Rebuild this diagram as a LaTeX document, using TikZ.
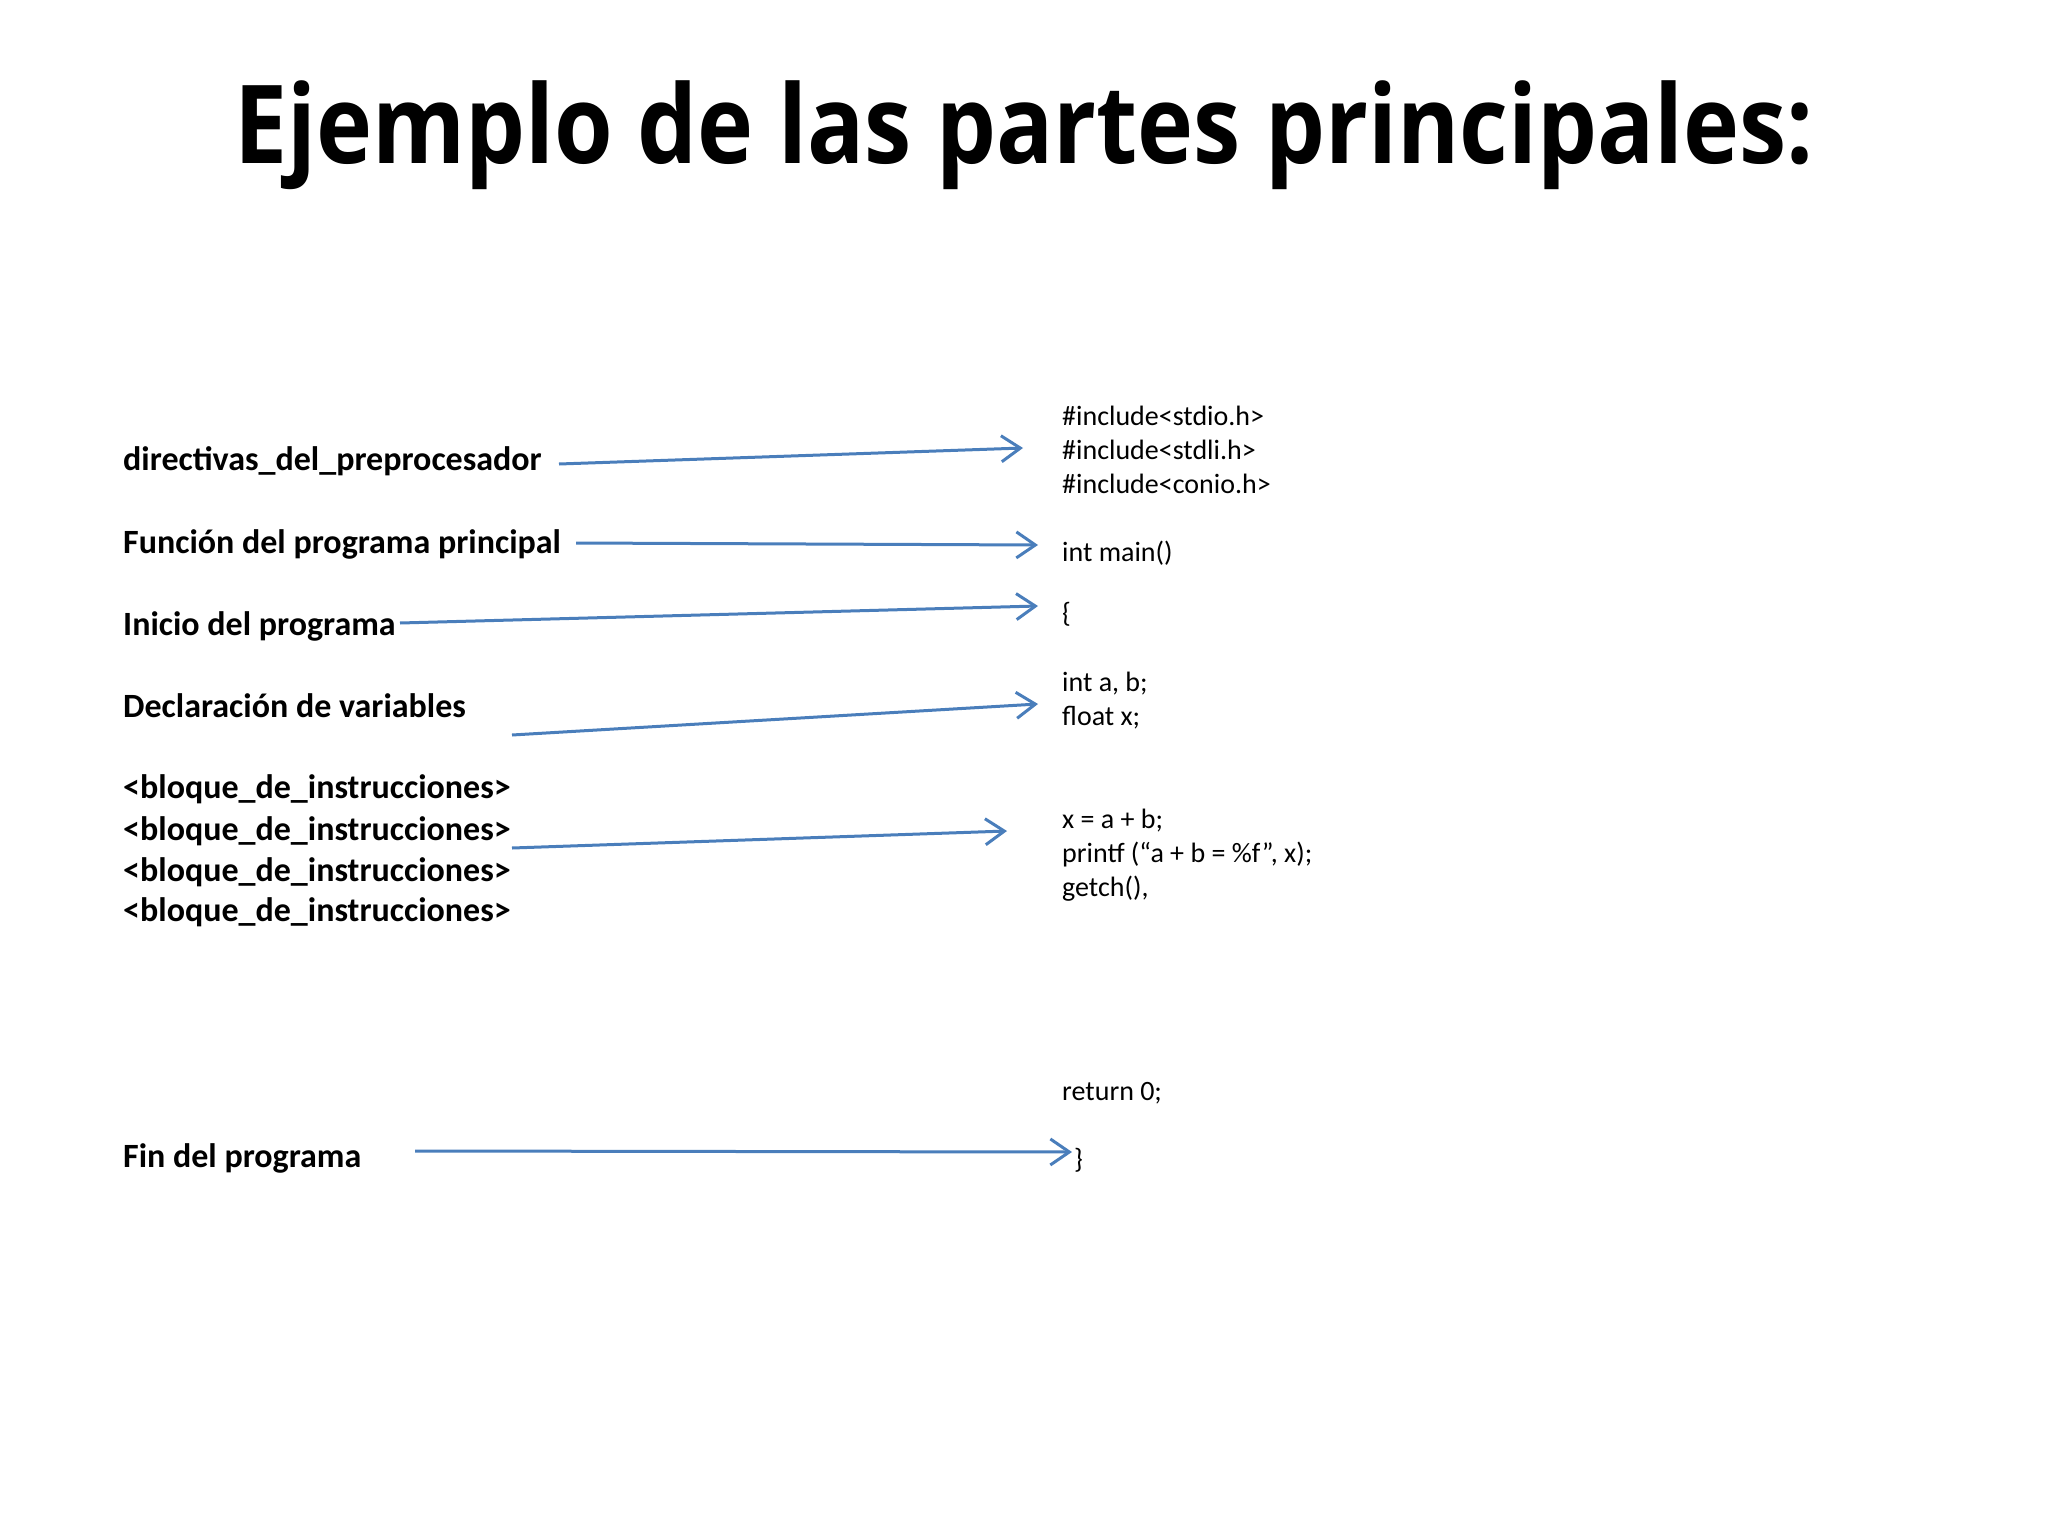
\documentclass[tikz,border=0pt]{standalone}
\usepackage{fontspec}
\setmainfont{Carlito}
\newfontfamily\titlefont{Open Sans}
\usetikzlibrary{arrows.meta}
\definecolor{arrowblue}{HTML}{4A7EBB}
\tikzset{
  lbl/.style={anchor=west, inner sep=0pt, font=\fontsize{34}{41}\selectfont\bfseries, text height=25pt, text depth=8pt},
  code/.style={anchor=west, inner sep=0pt, font=\fontsize{28}{34}\selectfont, text height=21pt, text depth=7pt},
  pointer/.style={draw=arrowblue, line width=3pt, -{Straight Barb[length=19pt,width=26pt,line width=3pt]}},
}
\begin{document}
\begin{tikzpicture}[x=1pt, y=-1pt]
\useasboundingbox (0,0) rectangle (2048,1536);
\node[anchor=base, inner sep=0pt] (title) at (1024,164)
  {\scalebox{0.87}[1]{\titlefont\fontsize{109}{120}\selectfont\bfseries Ejemplo de las partes principales:}};

% labels
\node[lbl] (dir) at (123,462) {directivas\_del\_preprocesador};
\node[lbl] (func) at (123,545) {Función del programa principal};
\node[lbl] (ini) at (123,627) {Inicio del programa};
\node[lbl] (decl) at (123,709) {Declaración de variables};
\node[lbl] (b1) at (123,790) {<bloque\_de\_instrucciones>};
\node[lbl] (b2) at (123,832) {<bloque\_de\_instrucciones>};
\node[lbl] (b3) at (123,873) {<bloque\_de\_instrucciones>};
\node[lbl] (b4) at (123,913) {<bloque\_de\_instrucciones>};
\node[lbl] (fin) at (123,1159) {Fin del programa};

% code
\node[code] (inc1) at (1062,418) {\#include<stdio.h>};
\node[code] (inc2) at (1062,452) {\#include<stdli.h>};
\node[code] (inc3) at (1062,486) {\#include<conio.h>};
\node[code] (main) at (1062,554) {int main()};
\node[code] (open) at (1062,615) {\{};
\node[code] (v1) at (1062,684) {int a, b;};
\node[code] (v2) at (1062,718) {float x;};
\node[code] (s1) at (1062,821) {x = a + b;};
\node[code] (s2) at (1062,855) {printf (“a + b = \%f”, x);};
\node[code] (s3) at (1062,889) {getch(),};
\node[code] (ret) at (1062,1093) {return 0;};
\node[code] (close) at (1074,1161) {\}};

% arrow end points
\coordinate (a1s) at (559,464);  \coordinate (a1e) at (1023,448);
\coordinate (a2s) at (576,543);  \coordinate (a2e) at (1038,545);
\coordinate (a3s) at (400,623);  \coordinate (a3e) at (1038,606);
\coordinate (a4s) at (512,735);  \coordinate (a4e) at (1038,704);
\coordinate (a5s) at (512,848);  \coordinate (a5e) at (1007,831);
\coordinate (a6s) at (415,1151); \coordinate (a6e) at (1072,1152);

\draw[pointer] (a1s) -- (a1e);
\draw[pointer] (a2s) -- (a2e);
\draw[pointer] (a3s) -- (a3e);
\draw[pointer] (a4s) -- (a4e);
\draw[pointer] (a5s) -- (a5e);
\draw[pointer] (a6s) -- (a6e);
\end{tikzpicture}
\end{document}
